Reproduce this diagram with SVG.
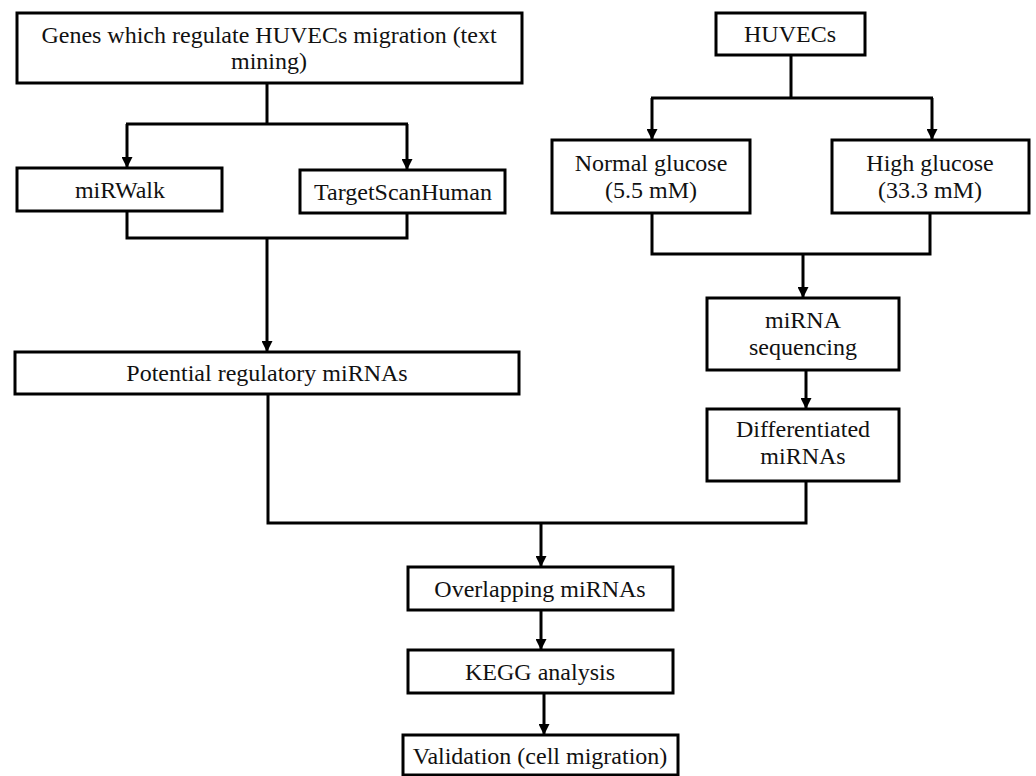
<svg xmlns="http://www.w3.org/2000/svg" width="1036" height="776" viewBox="0 0 1036 776">
  <defs>
    <marker id="arr" markerUnits="userSpaceOnUse" markerWidth="11" markerHeight="11" refX="11" refY="5.5" orient="auto">
      <path d="M0,0 L11,5.5 L0,11 z" fill="#000"/>
    </marker>
    <style>
      .box { fill: #fff; stroke: #000; stroke-width: 3; }
      .lbl { font-family: "Liberation Serif", "Times New Roman", serif; font-size: 24px; fill: #111; text-anchor: middle; }
      .conn { fill: none; stroke: #000; stroke-width: 3; }
    </style>
  </defs>
  <rect width="1036" height="776" fill="#fff"/>

  <g id="connectors">
    <path class="conn" d="M267,83 V124 M126,124 H408"/>
    <path class="conn" d="M127,124 V168" marker-end="url(#arr)"/>
    <path class="conn" d="M407,124 V170" marker-end="url(#arr)"/>
    <path class="conn" d="M127,211 V238 H407 V213"/>
    <path class="conn" d="M267,238 V352" marker-end="url(#arr)"/>
    <path class="conn" d="M791,55 V98 M651,98 H933"/>
    <path class="conn" d="M652,98 V140" marker-end="url(#arr)"/>
    <path class="conn" d="M932,98 V140" marker-end="url(#arr)"/>
    <path class="conn" d="M652,213 V254 H930 V213"/>
    <path class="conn" d="M803,254 V298" marker-end="url(#arr)"/>
    <path class="conn" d="M806,370 V409" marker-end="url(#arr)"/>
    <path class="conn" d="M268,394 V523 H806 V481"/>
    <path class="conn" d="M541,523 V567" marker-end="url(#arr)"/>
    <path class="conn" d="M541,610 V650" marker-end="url(#arr)"/>
    <path class="conn" d="M544,693 V735" marker-end="url(#arr)"/>
  </g>

  <g id="genes">
    <rect class="box" x="17" y="13" width="505" height="70"/>
    <text class="lbl" x="269" y="43">Genes which regulate HUVECs migration (text</text>
    <text class="lbl" x="269" y="69">mining)</text>
  </g>
  <g id="mirwalk">
    <rect class="box" x="17" y="168" width="205" height="43"/>
    <text class="lbl" x="120" y="198">miRWalk</text>
  </g>
  <g id="targetscan">
    <rect class="box" x="300" y="170" width="205" height="43"/>
    <text class="lbl" x="403" y="200">TargetScanHuman</text>
  </g>
  <g id="potential">
    <rect class="box" x="15" y="352" width="504" height="42"/>
    <text class="lbl" x="267" y="381">Potential regulatory miRNAs</text>
  </g>
  <g id="huvecs">
    <rect class="box" x="716" y="13" width="149" height="42"/>
    <text class="lbl" x="790" y="42">HUVECs</text>
  </g>
  <g id="normal">
    <rect class="box" x="552" y="140" width="198" height="73"/>
    <text class="lbl" x="651" y="171">Normal glucose</text>
    <text class="lbl" x="651" y="198">(5.5 mM)</text>
  </g>
  <g id="high">
    <rect class="box" x="832" y="140" width="197" height="73"/>
    <text class="lbl" x="930" y="171">High glucose</text>
    <text class="lbl" x="930" y="198">(33.3 mM)</text>
  </g>
  <g id="seq">
    <rect class="box" x="707" y="298" width="192" height="72"/>
    <text class="lbl" x="803" y="328">miRNA</text>
    <text class="lbl" x="803" y="355">sequencing</text>
  </g>
  <g id="diff">
    <rect class="box" x="707" y="409" width="192" height="72"/>
    <text class="lbl" x="803" y="437">Differentiated</text>
    <text class="lbl" x="803" y="464">miRNAs</text>
  </g>
  <g id="overlap">
    <rect class="box" x="408" y="567" width="265" height="43"/>
    <text class="lbl" x="540" y="597">Overlapping miRNAs</text>
  </g>
  <g id="kegg">
    <rect class="box" x="408" y="650" width="265" height="43"/>
    <text class="lbl" x="540" y="680">KEGG analysis</text>
  </g>
  <g id="validation">
    <rect class="box" x="403" y="735" width="275" height="40"/>
    <text class="lbl" x="540" y="764">Validation (cell migration)</text>
  </g>
</svg>
